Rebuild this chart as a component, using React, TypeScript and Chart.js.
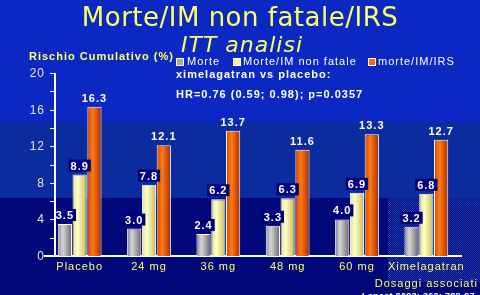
import React, { useEffect, useRef } from 'react';
import { Chart, registerables } from 'chart.js';

Chart.register(...registerables);

// ---- data ----
const categories: (string | string[])[] = ['Placebo', '24 mg', '36 mg', '48 mg', '60 mg', ['Ximelagatran', 'Dosaggi associati']];
const morte = [3.5, 3.0, 2.4, 3.3, 4.0, 3.2];
const morteImNonFatale = [8.9, 7.8, 6.2, 6.3, 6.9, 6.8];
const morteImIrs = [16.3, 12.1, 13.7, 11.6, 13.3, 12.7];
const seriesNames = ['Morte', 'Morte/IM non fatale', 'morte/IM/IRS'];
const yMin = 0;
const yMax = 20;
const yMinorStep = 2;
const yLabelStep = 4;
const titleText = 'Morte/IM non fatale/IRS';
const subtitleText = 'ITT analisi';
const yTitleText = 'Rischio Cumulativo (%)';
const noteLines = ['ximelagatran vs placebo:', 'HR=0.76 (0.59; 0.98); p=0.0357'];
const sourceText = 'Lancet 2003; 362: 789-97';

// ---- styles ----
const SANS = '"Liberation Sans", Arial, sans-serif';
const VERD = '"DejaVu Sans", Verdana, sans-serif';
const YELLOW = '#ffff66';
const solids = ['#a8a8a8', '#f4f0a0', '#ff6a00'];
const gradStops: [number, string][][] = [
  [[0, '#8c8c8c'], [0.35, '#d4d4d4'], [1, '#6a6a6a']],
  [[0, '#e4dc8c'], [0.35, '#ffffc8'], [1, '#c8b858']],
  [[0, '#d84a00'], [0.4, '#ff7a14'], [1, '#a82c00']],
];
const boxedSeries = [true, true, false];

const makeFill = (i: number) => (c: any) => {
  const el = c.element;
  if (!el || !Number.isFinite(el.x) || !Number.isFinite(el.width) || !el.width) return solids[i];
  const g = c.chart.ctx.createLinearGradient(el.x - el.width / 2, 0, el.x + el.width / 2, 0);
  gradStops[i].forEach(([o, col]) => g.addColorStop(o, col));
  return g;
};

const decor = {
  id: 'decor',
  beforeDraw(chart: any) {
    const { ctx, width, height } = chart;
    ctx.save();
    ctx.fillStyle = '#0b29c2';
    ctx.fillRect(0, 0, width, 122);
    ctx.fillStyle = '#0a2c9e';
    ctx.fillRect(0, 122, width, 76);
    ctx.fillStyle = '#00087a';
    ctx.fillRect(0, 198, width, height - 198);
    const p = document.createElement('canvas');
    p.width = 2;
    p.height = 2;
    const pc = p.getContext('2d')!;
    pc.fillStyle = '#00087a';
    pc.fillRect(0, 0, 2, 2);
    pc.fillStyle = '#1e3cb0';
    pc.fillRect(0, 0, 1, 1);
    pc.fillRect(1, 1, 1, 1);
    const pat = ctx.createPattern(p, 'repeat');
    if (pat) {
      ctx.fillStyle = pat;
      ctx.fillRect(388, 198, width - 388, 84);
    }
    ctx.restore();
    ctx.letterSpacing = '1px';
  },
  afterDatasetsDraw(chart: any) {
    const { ctx } = chart;
    ctx.save();
    ctx.letterSpacing = '1px';
    ctx.font = `bold 11px ${SANS}`;
    ctx.textAlign = 'center';
    ctx.textBaseline = 'alphabetic';
    chart.data.datasets.forEach((ds: any, i: number) => {
      const meta = chart.getDatasetMeta(i);
      meta.data.forEach((el: any, j: number) => {
        const text = Number(ds.data[j]).toFixed(1);
        const w = ctx.measureText(text).width;
        const base = el.y - 5;
        if (boxedSeries[i]) {
          ctx.fillStyle = '#00007a';
          ctx.fillRect(el.x - w / 2 - 2, base - 10, w + 4, 12);
        }
        ctx.fillStyle = '#ffffff';
        ctx.fillText(text, el.x, base);
      });
    });
    ctx.restore();
  },
  afterDraw(chart: any) {
    const { ctx, chartArea } = chart;
    const ys = chart.scales.y;
    ctx.save();
    // y axis
    const ax = 55;
    ctx.strokeStyle = '#ffffff';
    ctx.lineWidth = 2;
    ctx.beginPath();
    ctx.moveTo(ax, ys.getPixelForValue(yMax));
    ctx.lineTo(ax, chartArea.bottom);
    ctx.stroke();
    ctx.lineWidth = 1;
    ctx.font = `12px ${SANS}`;
    ctx.fillStyle = '#e6e6e6';
    ctx.textAlign = 'right';
    ctx.textBaseline = 'middle';
    ctx.letterSpacing = '1px';
    for (let v = yMin; v <= yMax; v += yMinorStep) {
      const py = Math.round(ys.getPixelForValue(v)) + 0.5;
      ctx.beginPath();
      ctx.moveTo(ax - 5, py);
      ctx.lineTo(ax, py);
      ctx.stroke();
      if (v % yLabelStep === 0) ctx.fillText(String(v), 45, py);
    }
    // titles
    ctx.textAlign = 'center';
    ctx.textBaseline = 'alphabetic';
    ctx.fillStyle = YELLOW;
    ctx.letterSpacing = '0.5px';
    ctx.font = `26px ${VERD}`;
    ctx.fillText(titleText, 240, 26);
    ctx.letterSpacing = '1px';
    ctx.font = `italic 22px ${VERD}`;
    ctx.fillText(subtitleText, 242, 52);
    // y title
    ctx.textAlign = 'left';
    ctx.font = `bold 11px ${SANS}`;
    ctx.fillText(yTitleText, 29, 60);
    // legend
    const sqX = [176, 233, 368];
    const txX = [187, 243, 378];
    ctx.font = `11px ${SANS}`;
    seriesNames.forEach((name, i) => {
      ctx.fillStyle = solids[i];
      ctx.fillRect(sqX[i], 58, 7, 7);
      ctx.strokeStyle = '#ffffff';
      ctx.strokeRect(sqX[i] + 0.5, 58.5, 7, 7);
      ctx.fillStyle = '#ffffff';
      ctx.fillText(name, txX[i], 65);
    });
    // notes
    ctx.font = `bold 11px ${SANS}`;
    ctx.fillStyle = '#ffffff';
    ctx.fillText(noteLines[0], 176, 78);
    ctx.fillText(noteLines[1], 176, 98);
    // source
    ctx.letterSpacing = '0.3px';
    ctx.font = `bold 9px ${SANS}`;
    ctx.fillText(sourceText, 362, 299);
    ctx.restore();
  },
};

export default function App() {
  const ref = useRef<HTMLCanvasElement>(null);
  useEffect(() => {
    const chart = new Chart(ref.current!, {
      type: 'bar',
      data: {
        labels: categories as any,
        datasets: [morte, morteImNonFatale, morteImIrs].map((d, i) => ({
          label: seriesNames[i],
          data: d,
          backgroundColor: makeFill(i) as any,
          borderColor: '#ffffff',
          borderWidth: 1,
          categoryPercentage: 0.64,
          barPercentage: 0.96,
        })),
      },
      options: {
        responsive: false,
        animation: false,
        devicePixelRatio: 1,
        layout: { padding: { left: 45, right: 19, top: 73, bottom: 0 } },
        plugins: {
          legend: { display: false },
          title: { display: false },
          tooltip: { enabled: false },
        },
        scales: {
          x: {
            grid: { display: false, drawTicks: false },
            border: { display: true, color: '#ffffff', width: 2 },
            ticks: {
              color: YELLOW,
              font: { family: SANS, size: 11, lineHeight: 1.55 },
              padding: 2,
              maxRotation: 0,
              autoSkip: false,
            },
            afterFit: (s: any) => {
              s.height = 39;
              s.paddingLeft = 0;
              s.paddingRight = 0;
            },
          },
          y: { display: false, min: yMin, max: yMax },
        },
      },
      plugins: [decor],
    } as any);
    chart.update();
    return () => chart.destroy();
  }, []);
  return (
    <div style={{ position: 'absolute', left: 0, top: 0, width: 480, height: 295 }}>
      <canvas ref={ref} width={480} height={295} style={{ display: 'block', width: 480, height: 295 }} />
    </div>
  );
}
